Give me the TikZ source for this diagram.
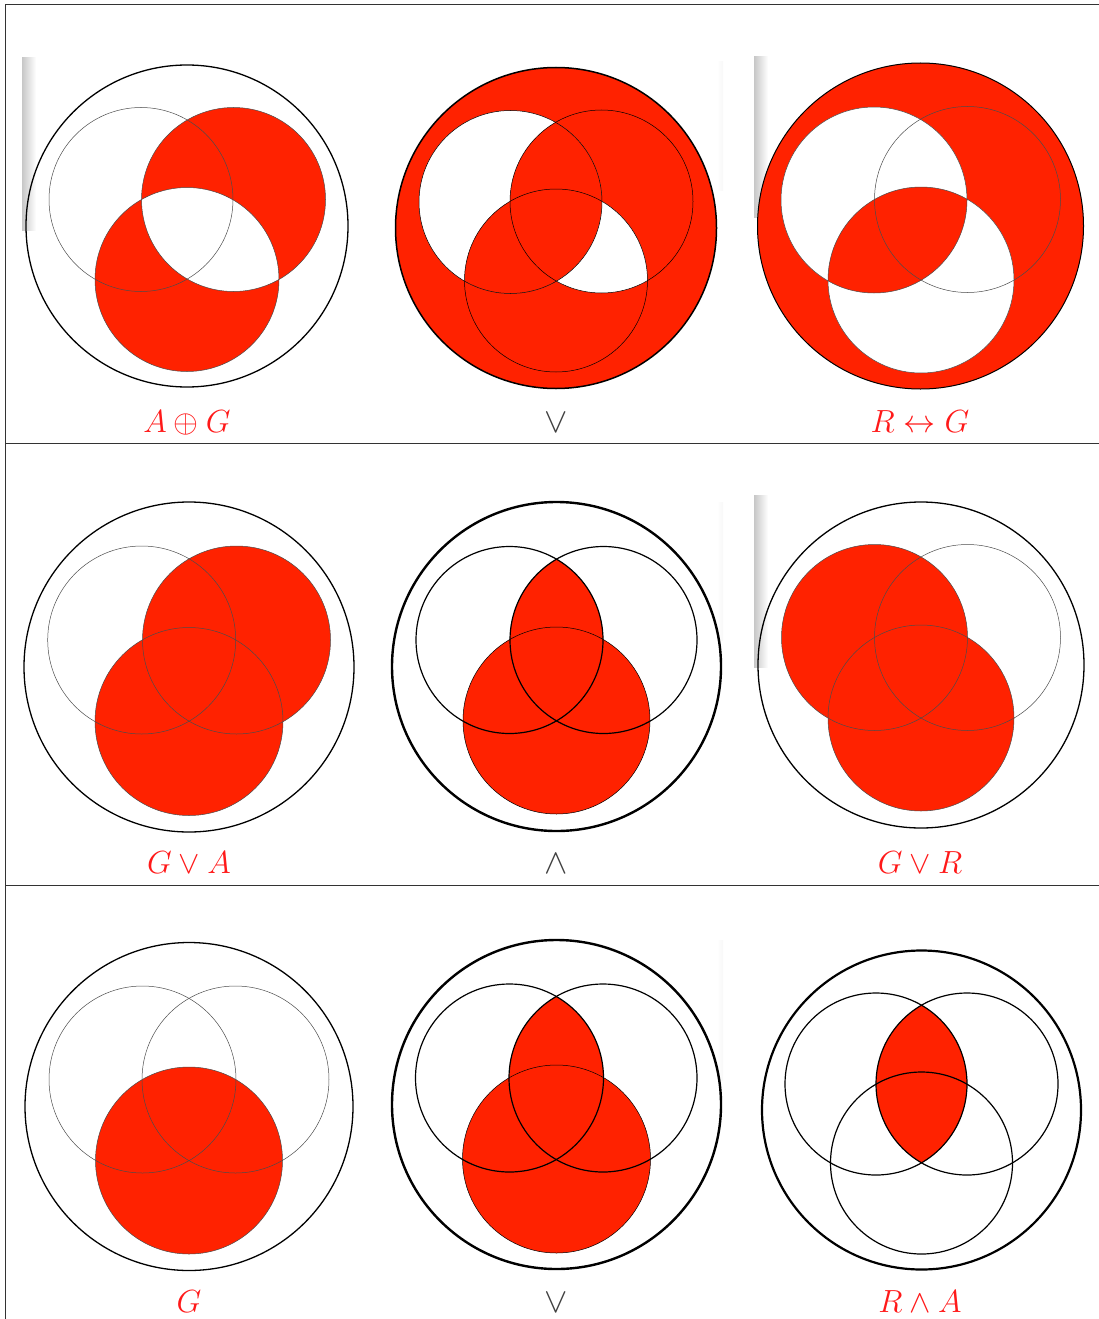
\RequirePackage{fix-cm}
\documentclass[tikz,border=0pt]{standalone}
\usepackage{amsmath}
\usepackage{amssymb}
\usepackage{xcolor}
\usetikzlibrary{calc}

\definecolor{vennred}{RGB}{255,34,0}
\definecolor{labelred}{RGB}{255,25,25}

\begin{document}
\begin{tikzpicture}[x=1pt, y=-1pt,
    region/.style={fill=vennred},
    universe/.style={draw=black, line width=1.3pt},
    bolduniverse/.style={draw=black, line width=2.4pt},
    setline/.style={draw=black!70, line width=0.5pt},
    boldsetline/.style={draw=black, line width=1.2pt},
    formula/.style={anchor=base, text=labelred, font=\fontsize{32}{38}\selectfont},
    connective/.style={anchor=base, text=black!75, font=\fontsize{35}{40}\selectfont}]

    \useasboundingbox (0,0) rectangle (1099,1319);

    % Table rules
    \draw[black!80, line width=1pt] (5,5) -- (1099,5);
    \draw[black!80, line width=1pt] (5,5) -- (5,1319);
    \draw[black!80, line width=1pt] (5,443) -- (1099,443);
    \draw[black!80, line width=1pt] (5,885) -- (1099,885);

    % Scan shadows
    \shade[left color=black!22, right color=white] (22,58) rectangle (36,230);
    \shade[left color=black!22, right color=white] (754,57) rectangle (768,217);
    \shade[left color=black!22, right color=white] (754,495) rectangle (768,667);
    \shade[left color=white, right color=black!3] (717,62) rectangle (723,190);
    \shade[left color=white, right color=black!3] (717,502) rectangle (723,640);
    \shade[left color=white, right color=black!3] (717,940) rectangle (723,1080);

    % Row 1, left: A xor G
    \coordinate (Ua) at (187,226);
    \coordinate (Ra) at (141,199.5);
    \coordinate (Aa) at (233.5,199.5);
    \coordinate (Ga) at (187,279.5);
    \fill[region, even odd rule] (Aa) circle (92pt) (Ga) circle (92pt);
    \draw[universe] (Ua) circle (161pt);
    \draw[setline] (Ra) circle (92pt);
    \draw[setline] (Aa) circle (92pt);
    \draw[setline] (Ga) circle (92pt);
    \node[formula] (fa) at (187,432) {$A \oplus G$};

    % Row 1, middle: or
    \coordinate (Ub) at (556,228);
    \coordinate (Rb) at (510.5,202);
    \coordinate (Ab) at (601.5,201.5);
    \coordinate (Gb) at (556,280.5);
    \fill[region] (Ub) circle (160.5pt);
    \fill[white] (Rb) circle (91.5pt);
    \begin{scope}
        \clip (Rb) circle (91.5pt);
        \fill[region] (Ab) circle (91.5pt);
        \fill[region] (Gb) circle (91.5pt);
    \end{scope}
    \begin{scope}
        \clip (Ab) circle (91.5pt);
        \clip (Gb) circle (91.5pt);
        \fill[white, even odd rule] (Rb) circle (91.5pt) (Ub) circle (170pt);
    \end{scope}
    \draw[universe, line width=1.5pt] (Ub) circle (160.5pt);
    \draw[setline, draw=black] (Rb) circle (91.5pt);
    \draw[setline, draw=black] (Ab) circle (91.5pt);
    \draw[setline, draw=black] (Gb) circle (91.5pt);
    \node[connective] (fb) at (556,432) {$\vee$};

    % Row 1, right: R iff G
    \coordinate (Uc) at (920.5,226);
    \coordinate (Rc) at (874,200);
    \coordinate (Ac) at (967.5,199.5);
    \coordinate (Gc) at (921,280);
    \fill[region] (Uc) circle (163pt);
    \fill[white] (Rc) circle (93pt);
    \fill[white] (Gc) circle (93pt);
    \begin{scope}
        \clip (Rc) circle (93pt);
        \fill[region] (Gc) circle (93pt);
    \end{scope}
    \draw[universe, line width=1pt] (Uc) circle (163pt);
    \draw[setline] (Rc) circle (93pt);
    \draw[setline] (Ac) circle (93pt);
    \draw[setline] (Gc) circle (93pt);
    \node[formula] (fc) at (920,432) {$R \leftrightarrow G$};

    % Row 2, left: G or A
    \coordinate (Ud) at (189,667);
    \coordinate (Rd) at (141.7,640);
    \coordinate (Ad) at (236.5,640);
    \coordinate (Gd) at (189,721.5);
    \fill[region] (Ad) circle (94pt);
    \fill[region] (Gd) circle (94pt);
    \draw[universe] (Ud) circle (165pt);
    \draw[setline] (Rd) circle (94pt);
    \draw[setline] (Ad) circle (94pt);
    \draw[setline] (Gd) circle (94pt);
    \node[formula] (fd) at (189,873) {$G \vee A$};

    % Row 2, middle: and
    \coordinate (Ue) at (556.5,666.5);
    \coordinate (Re) at (509.5,640);
    \coordinate (Ae) at (603.5,640);
    \coordinate (Ge) at (556.5,720.5);
    \fill[region] (Ge) circle (93.5pt);
    \begin{scope}
        \clip (Re) circle (93.5pt);
        \fill[region] (Ae) circle (93.5pt);
    \end{scope}
    \draw[bolduniverse] (Ue) circle (164.5pt);
    \draw[boldsetline] (Re) circle (93.5pt);
    \draw[boldsetline] (Ae) circle (93.5pt);
    \draw[setline, draw=black] (Ge) circle (93.5pt);
    \node[connective] (fe) at (556,873) {$\wedge$};

    % Row 2, right: G or R
    \coordinate (Uf) at (921,665);
    \coordinate (Rf) at (874.5,637.5);
    \coordinate (Af) at (967.5,637.5);
    \coordinate (Gf) at (921,718);
    \fill[region] (Rf) circle (93pt);
    \fill[region] (Gf) circle (93pt);
    \draw[universe] (Uf) circle (163pt);
    \draw[setline] (Rf) circle (93pt);
    \draw[setline] (Af) circle (93pt);
    \draw[setline] (Gf) circle (93pt);
    \node[formula] (ff) at (920,873) {$G \vee R$};

    % Row 3, left: G
    \coordinate (Ug) at (189,1106.5);
    \coordinate (Rg) at (142.5,1079.5);
    \coordinate (Ag) at (235.5,1079.5);
    \coordinate (Gg) at (189,1160.5);
    \fill[region] (Gg) circle (93.5pt);
    \draw[universe] (Ug) circle (164pt);
    \draw[setline] (Rg) circle (93.5pt);
    \draw[setline] (Ag) circle (93.5pt);
    \draw[setline] (Gg) circle (93.5pt);
    \node[formula] (fg) at (189,1312) {$G$};

    % Row 3, middle: or
    \coordinate (Uh) at (556.5,1104.5);
    \coordinate (Rh) at (509.5,1078);
    \coordinate (Ah) at (603,1078);
    \coordinate (Gh) at (556.5,1159);
    \fill[region] (Gh) circle (94pt);
    \begin{scope}
        \clip (Rh) circle (94pt);
        \fill[region] (Ah) circle (94pt);
    \end{scope}
    \draw[bolduniverse] (Uh) circle (164.5pt);
    \draw[boldsetline] (Rh) circle (94pt);
    \draw[boldsetline] (Ah) circle (94pt);
    \draw[setline, draw=black] (Gh) circle (94pt);
    \node[connective] (fh) at (556,1312) {$\vee$};

    % Row 3, right: R and A
    \coordinate (Ui) at (921.5,1110);
    \coordinate (Ri) at (876,1084);
    \coordinate (Ai) at (967,1084);
    \coordinate (Gi) at (921.5,1163);
    \begin{scope}
        \clip (Ri) circle (91pt);
        \fill[region] (Ai) circle (91pt);
    \end{scope}
    \draw[bolduniverse, line width=2.2pt] (Ui) circle (159.5pt);
    \draw[boldsetline] (Ri) circle (91pt);
    \draw[boldsetline] (Ai) circle (91pt);
    \draw[boldsetline] (Gi) circle (91pt);
    \node[formula] (fi) at (920,1312) {$R \wedge A$};
\end{tikzpicture}
\end{document}
